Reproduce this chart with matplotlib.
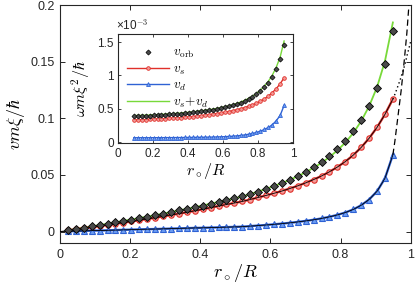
import numpy as np
import matplotlib
matplotlib.use("Agg")
import matplotlib.pyplot as plt

plt.rcParams['font.family'] = ['Liberation Sans', 'DejaVu Sans']
plt.rcParams['mathtext.fontset'] = 'cm'

# ---- data (main panel) ----
r = [0.0226, 0.0452, 0.0678, 0.0904, 0.1130, 0.1356, 0.1582, 0.1808, 0.2034, 0.2260,
     0.2486, 0.2712, 0.2938, 0.3164, 0.3390, 0.3616, 0.3842, 0.4068, 0.4294, 0.4520,
     0.4746, 0.4972, 0.5198, 0.5424, 0.5650, 0.5876, 0.6102, 0.6328, 0.6554, 0.6780,
     0.7006, 0.7232, 0.7458, 0.7684, 0.7910, 0.8136, 0.8362, 0.8588, 0.8814, 0.9040,
     0.9266, 0.9492]
v_orb = [0.0012, 0.0023, 0.0035, 0.0046, 0.0058, 0.0070, 0.0082, 0.0094, 0.0106, 0.0119,
         0.0132, 0.0145, 0.0158, 0.0172, 0.0186, 0.0200, 0.0215, 0.0230, 0.0246, 0.0262,
         0.0278, 0.0294, 0.0311, 0.0333, 0.0353, 0.0376, 0.0400, 0.0428, 0.0459, 0.0493,
         0.0530, 0.0570, 0.0615, 0.0666, 0.0728, 0.0800, 0.0885, 0.0985, 0.1110, 0.1265,
         0.1480, 0.1770]
v_s = [0.00095, 0.0019, 0.0029, 0.0038, 0.0048, 0.0058, 0.0068, 0.0079, 0.0089, 0.0100,
       0.0111, 0.0122, 0.0134, 0.0146, 0.0158, 0.0170, 0.0183, 0.0197, 0.0211, 0.0225,
       0.0239, 0.0252, 0.0266, 0.0283, 0.0301, 0.0319, 0.0338, 0.0358, 0.0380, 0.0404,
       0.0430, 0.0459, 0.0491, 0.0528, 0.0570, 0.0618, 0.0675, 0.0743, 0.0824, 0.0920,
       0.1035, 0.1170]
v_d = [0.0002, 0.0004, 0.0006, 0.0008, 0.0009, 0.0011, 0.0013, 0.0015, 0.0017, 0.0019,
       0.0021, 0.0022, 0.0024, 0.0026, 0.0028, 0.0030, 0.0032, 0.0033, 0.0035, 0.0037,
       0.0039, 0.0041, 0.0043, 0.0048, 0.0053, 0.0058, 0.0064, 0.0070, 0.0077, 0.0085,
       0.0094, 0.0104, 0.0116, 0.0130, 0.0147, 0.0168, 0.0195, 0.0232, 0.0283, 0.0355,
       0.0470, 0.0677]
# theory continuations beyond the last data point
r_vd_ext = [0.9492, 0.955, 0.963, 0.973, 0.982, 0.989, 0.995]
vd_ext = [0.0677, 0.080, 0.100, 0.125, 0.152, 0.175, 0.200]
r_vs_ext = [0.9492, 0.956, 0.963, 0.970, 0.977, 0.984, 0.990, 0.996, 1.0]
vs_ext = [0.1170, 0.122, 0.128, 0.134, 0.141, 0.148, 0.156, 0.163, 0.168]

# ---- data (inset, units of 1e-3) ----
r_in = r[3:]
w_orb = [0.390, 0.392, 0.394, 0.396, 0.398, 0.401, 0.404, 0.407, 0.411, 0.415,
         0.419, 0.424, 0.429, 0.434, 0.440, 0.446, 0.453, 0.461, 0.469, 0.478,
         0.488, 0.499, 0.511, 0.524, 0.539, 0.555, 0.573, 0.594, 0.615, 0.642,
         0.675, 0.715, 0.762, 0.820, 0.890, 0.980, 1.090, 1.250, 1.460]
w_s = [0.332, 0.334, 0.336, 0.338, 0.340, 0.343, 0.346, 0.349, 0.352, 0.356,
       0.360, 0.364, 0.368, 0.373, 0.378, 0.384, 0.390, 0.397, 0.404, 0.411,
       0.419, 0.428, 0.438, 0.448, 0.459, 0.472, 0.486, 0.501, 0.518, 0.537,
       0.559, 0.584, 0.613, 0.648, 0.690, 0.742, 0.800, 0.875, 0.965]
w_d = [0.066, 0.066, 0.066, 0.066, 0.066, 0.067, 0.067, 0.067, 0.068, 0.068,
       0.068, 0.069, 0.069, 0.070, 0.070, 0.071, 0.072, 0.073, 0.074, 0.075,
       0.076, 0.078, 0.080, 0.082, 0.085, 0.089, 0.094, 0.100, 0.108, 0.118,
       0.130, 0.145, 0.165, 0.190, 0.220, 0.260, 0.320, 0.400, 0.551]

xticks = [0, 0.2, 0.4, 0.6, 0.8, 1]
xticklabels = ['0', '0.2', '0.4', '0.6', '0.8', '1']
yticks = [0, 0.05, 0.1, 0.15, 0.2]
yticklabels = ['0', '0.05', '0.1', '0.15', '0.2']
in_yticks = [0, 0.5, 1, 1.5]
in_yticklabels = ['0', '0.5', '1', '1.5']

C_GREEN = '#78d93a'
C_RED = '#e0302a'
C_RED_F = '#f39a98'
C_BLUE = '#2f62d4'
C_BLUE_F = '#6d9ef2'
C_DIA = '#4a4a4a'

fig = plt.figure(figsize=(4.15, 2.85), dpi=100)
ax = fig.add_axes([0.1446, 0.147, 0.845, 0.835])

r = np.array(r); v_s = np.array(v_s); v_d = np.array(v_d)
ax.plot(r, v_s + v_d, color=C_GREEN, lw=1.3, zorder=2)
ax.plot(r, v_s, color=C_RED, lw=1.7, marker='o', ms=3.9, mfc=C_RED_F, mec=C_RED,
        mew=0.8, zorder=3)
ax.plot(r, v_d, color=C_BLUE, lw=1.7, marker='^', ms=4.3, mfc=C_BLUE_F, mec=C_BLUE,
        mew=0.8, zorder=3)
ax.plot(np.r_[0, r], np.r_[0, v_s], color='k', lw=0.6, zorder=4)
ax.plot(np.r_[0, r], np.r_[0, v_d], color='k', lw=0.6, zorder=4)
ax.plot(r_vd_ext, vd_ext, color='k', lw=0.9, ls=(0, (5, 3)), zorder=4)
ax.plot(r_vs_ext, vs_ext, color='k', lw=1.0, ls=(0, (1, 2)), zorder=4)
ax.plot(r, v_orb, ls='none', marker='D', ms=4.3, mfc=C_DIA, mec='k', mew=0.6, zorder=5)

ax.set_xlim(0, 1)
ax.set_ylim(-0.0102, 0.2)
ax.set_xticks(xticks)
ax.set_xticklabels(xticklabels)
ax.set_yticks(yticks)
ax.set_yticklabels(yticklabels)
ax.tick_params(direction='in', top=True, right=True, length=3.5, width=0.7,
               labelsize=9, colors='#262626', pad=4)
for s in ax.spines.values():
    s.set_linewidth(0.8)
    s.set_color('#262626')
ax.set_xlabel(r'$r_\circ/R$', fontsize=13, labelpad=1)
ax.set_ylabel(r'$vm\xi/\hbar$', fontsize=13, labelpad=2)

# ---- inset ----
ai = fig.add_axes([0.2843, 0.4965, 0.4217, 0.384])
ai.plot(r_in, w_orb, ls='none', marker='D', ms=2.6, mfc=C_DIA, mec='k', mew=0.5,
        zorder=5, label=r'$v_{\rm orb}$')
ai.plot(r_in, w_s, color=C_RED, lw=1.0, marker='o', ms=2.6, mfc=C_RED_F, mec=C_RED,
        mew=0.6, zorder=3, label=r'$v_s$')
ai.plot(r_in, w_d, color=C_BLUE, lw=1.0, marker='^', ms=2.8, mfc=C_BLUE_F, mec=C_BLUE,
        mew=0.6, zorder=3, label=r'$v_d$')
ai.plot(r_in, np.array(w_s) + np.array(w_d), color=C_GREEN, lw=1.0, zorder=4,
        label=r'$v_s\!+\!v_d$')
ai.set_xlim(0, 1)
ai.set_ylim(-0.02, 1.62)
ai.set_xticks(xticks)
ai.set_xticklabels(xticklabels)
ai.set_yticks(in_yticks)
ai.set_yticklabels(in_yticklabels)
ai.tick_params(direction='in', top=True, right=True, length=2.5, width=0.6,
               labelsize=8.5, colors='#262626', pad=3)
for s in ai.spines.values():
    s.set_linewidth(0.8)
    s.set_color('#262626')
ai.set_xlabel(r'$r_\circ/R$', fontsize=11.5, labelpad=1)
ai.set_ylabel(r'$\omega m\xi^2/\hbar$', fontsize=11.5, labelpad=4)
ai.text(-0.01, 1.015, '×10$^{-3}$', transform=ai.transAxes, fontsize=8.5,
        ha='left', va='bottom', color='#262626')
handles, labels = ai.get_legend_handles_labels()
leg = ai.legend(handles, labels, loc='upper left', bbox_to_anchor=(0.02, 0.93),
                frameon=False, fontsize=9.5, handlelength=3.2, handletextpad=0.3,
                labelspacing=0.2, borderaxespad=0.2, borderpad=0.2)

fig.savefig('out.png', dpi=100)
